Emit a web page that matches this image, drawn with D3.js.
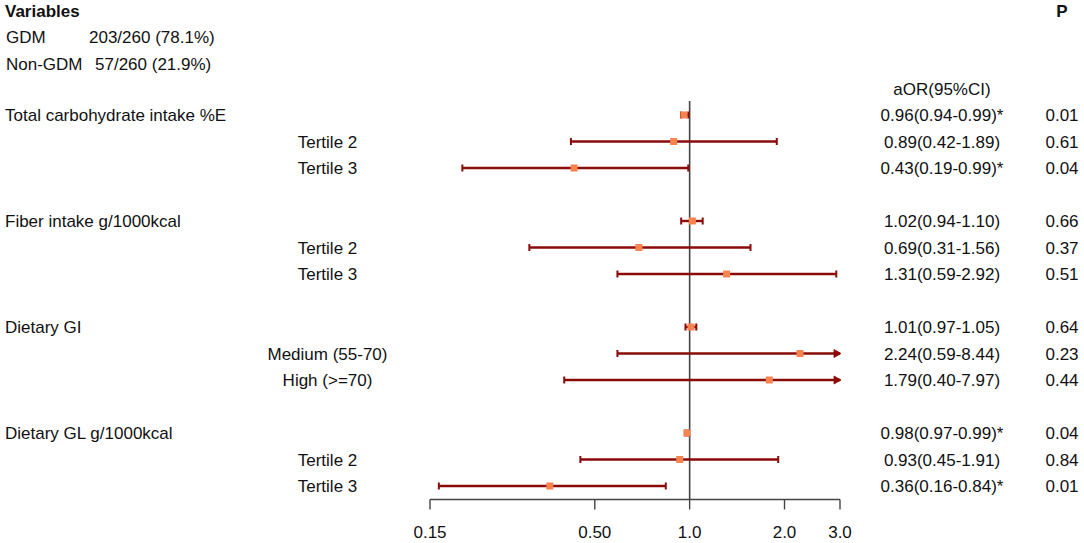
<!DOCTYPE html>
<html>
<head>
<meta charset="utf-8">
<script src="https://cdn.jsdelivr.net/npm/d3@7"></script>
<style>
  html, body { margin: 0; padding: 0; background: #fff; }
  svg { display: block; }
  text { font-family: "Liberation Sans", Arial, sans-serif; fill: #111; }
</style>
</head>
<body>
<svg id="chart" width="1084" height="543"></svg>
<script>
// ---- data ----
const rowLabels = [
  "Total carbohydrate intake %E", "Tertile 2", "Tertile 3",
  "Fiber intake g/1000kcal", "Tertile 2", "Tertile 3",
  "Dietary GI", "Medium (55-70)", "High (>=70)",
  "Dietary GL g/1000kcal", "Tertile 2", "Tertile 3"
];
const rowIsSub = [false, true, true, false, true, true, false, true, true, false, true, true];
const rowIndex = [0, 1, 2, 4, 5, 6, 8, 9, 10, 12, 13, 14];
const aOR   = [0.96, 0.89, 0.43, 1.02, 0.69, 1.31, 1.01, 2.24, 1.79, 0.98, 0.93, 0.36];
const lower = [0.94, 0.42, 0.19, 0.94, 0.31, 0.59, 0.97, 0.59, 0.40, 0.97, 0.45, 0.16];
const upper = [0.99, 1.89, 0.99, 1.10, 1.56, 2.92, 1.05, 8.44, 7.97, 0.99, 1.91, 0.84];
const ciText = [
  "0.96(0.94-0.99)*", "0.89(0.42-1.89)", "0.43(0.19-0.99)*",
  "1.02(0.94-1.10)", "0.69(0.31-1.56)", "1.31(0.59-2.92)",
  "1.01(0.97-1.05)", "2.24(0.59-8.44)", "1.79(0.40-7.97)",
  "0.98(0.97-0.99)*", "0.93(0.45-1.91)", "0.36(0.16-0.84)*"
];
const pValues = ["0.01", "0.61", "0.04", "0.66", "0.37", "0.51", "0.64", "0.23", "0.44", "0.04", "0.84", "0.01"];
const tickValues = [0.15, 0.5, 1.0, 2.0, 3.0];
const tickLabels = ["0.15", "0.50", "1.0", "2.0", "3.0"];
const headerLines = [
  ["GDM", "203/260 (78.1%)"],
  ["Non-GDM", "57/260 (21.9%)"]
];

// ---- layout ----
const svg = d3.select("#chart");
const fs = 17;
const lineColor = "#8B0a0a";
const boxColor = "#F7834F";

const x = d3.scaleLog().domain([0.15, 3.0]).range([430, 840]);
const y = d3.scaleLinear().domain([0, 14]).range([115, 486]);
const axisY = 499.5;

// header texts
svg.append("text").attr("x", 5).attr("y", 17).attr("font-size", fs).attr("font-weight", "bold").text("Variables");
svg.append("text").attr("x", 1062).attr("y", 17).attr("font-size", fs).attr("font-weight", "bold")
  .attr("text-anchor", "middle").text("P");
const hdrX2 = [89, 95];
headerLines.forEach((h, i) => {
  const yy = 43 + i * 27;
  svg.append("text").attr("x", 6).attr("y", yy).attr("font-size", fs).text(h[0]);
  svg.append("text").attr("x", hdrX2[i]).attr("y", yy).attr("font-size", fs).text(h[1]);
});
svg.append("text").attr("x", 942).attr("y", y(-1) + 6).attr("font-size", fs)
  .attr("text-anchor", "middle").text("aOR(95%CI)");

// row labels
const rows = rowLabels.map((l, i) => ({
  label: l, sub: rowIsSub[i], idx: rowIndex[i],
  or: aOR[i], lo: lower[i], hi: upper[i], ci: ciText[i], p: pValues[i]
}));

const g = svg.append("g");
g.selectAll("text.lab").data(rows).join("text")
  .attr("class", "lab")
  .attr("x", d => d.sub ? 327.5 : 5)
  .attr("y", d => y(d.idx) + 6)
  .attr("text-anchor", d => d.sub ? "middle" : "start")
  .attr("font-size", fs)
  .text(d => d.label);

g.selectAll("text.ci").data(rows).join("text")
  .attr("class", "ci")
  .attr("x", 942)
  .attr("y", d => y(d.idx) + 6)
  .attr("text-anchor", "middle")
  .attr("font-size", fs)
  .text(d => d.ci);

g.selectAll("text.p").data(rows).join("text")
  .attr("class", "p")
  .attr("x", 1062)
  .attr("y", d => y(d.idx) + 6)
  .attr("text-anchor", "middle")
  .attr("font-size", fs)
  .text(d => d.p);

// reference line at 1
svg.append("line")
  .attr("x1", x(1)).attr("x2", x(1))
  .attr("y1", 101).attr("y2", axisY)
  .attr("stroke", "#444").attr("stroke-width", 1.6);

// CI lines
const [dMin, dMax] = x.domain();
const ciG = svg.append("g");
rows.forEach(d => {
  const yy = y(d.idx);
  const lo = Math.max(d.lo, dMin), hi = Math.min(d.hi, dMax);
  ciG.append("line")
    .attr("x1", x(lo)).attr("x2", x(hi)).attr("y1", yy).attr("y2", yy)
    .attr("stroke", lineColor).attr("stroke-width", 2.4);
  if (d.lo >= dMin) {
    ciG.append("line").attr("x1", x(lo)).attr("x2", x(lo))
      .attr("y1", yy - 3.5).attr("y2", yy + 3.5)
      .attr("stroke", lineColor).attr("stroke-width", 2);
  }
  if (d.hi <= dMax) {
    ciG.append("line").attr("x1", x(hi)).attr("x2", x(hi))
      .attr("y1", yy - 3.5).attr("y2", yy + 3.5)
      .attr("stroke", lineColor).attr("stroke-width", 2);
  } else {
    const ax = x(dMax);
    ciG.append("path")
      .attr("d", `M${ax - 6},${yy - 4} L${ax + 1},${yy} L${ax - 6},${yy + 4} Z`)
      .attr("fill", lineColor).attr("stroke", lineColor).attr("stroke-width", 0.8);
  }
});

// boxes
const bs = 7;
svg.append("g").selectAll("rect").data(rows).join("rect")
  .attr("x", d => x(d.or) - bs / 2)
  .attr("y", d => y(d.idx) - bs / 2)
  .attr("width", bs).attr("height", bs)
  .attr("fill", boxColor);

// axis
const axisG = svg.append("g").attr("transform", `translate(0,${axisY})`);
axisG.append("line").attr("x1", x(dMin)).attr("x2", x(dMax)).attr("y1", 0).attr("y2", 0)
  .attr("stroke", "#444").attr("stroke-width", 1.4);
axisG.selectAll("line.tick").data(tickValues).join("line")
  .attr("class", "tick")
  .attr("x1", d => x(d)).attr("x2", d => x(d))
  .attr("y1", 0).attr("y2", 10)
  .attr("stroke", "#444").attr("stroke-width", 1.4);
axisG.selectAll("text").data(tickValues).join("text")
  .attr("x", d => x(d)).attr("y", 38.5)
  .attr("text-anchor", "middle").attr("font-size", fs)
  .text((d, i) => tickLabels[i]);
</script>
</body>
</html>
